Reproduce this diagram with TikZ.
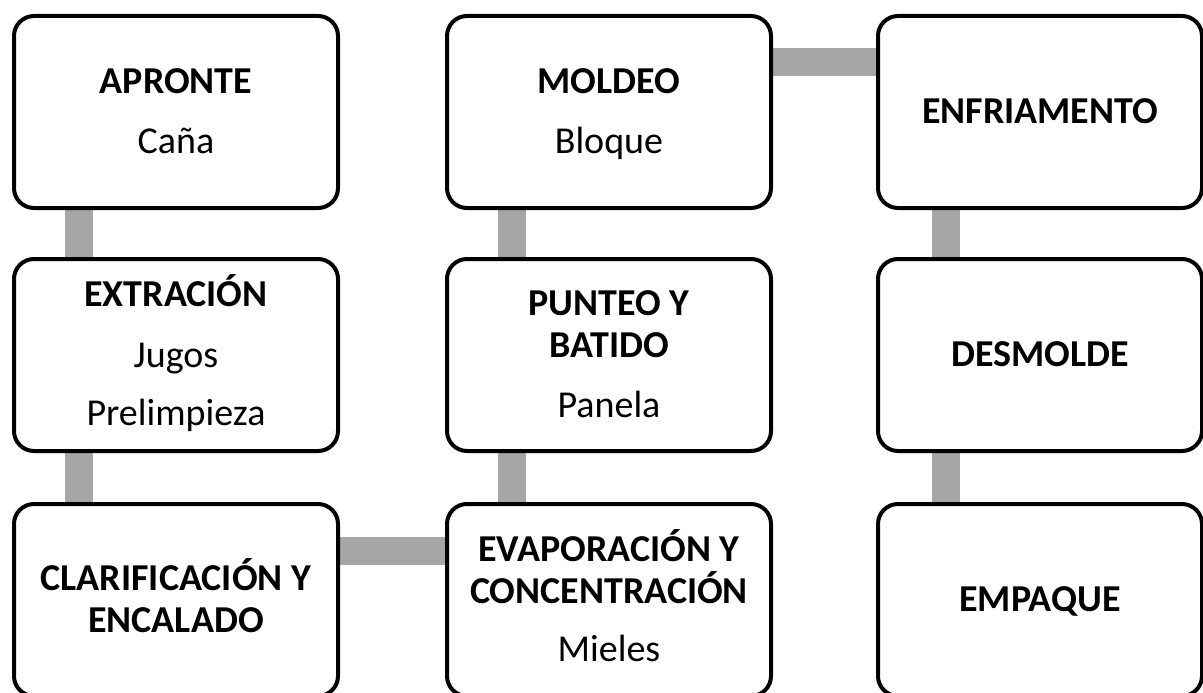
\documentclass[tikz,border=0pt]{standalone}
\usepackage{fontspec}
\setmainfont{Carlito}
\usetikzlibrary{backgrounds}
\definecolor{conngray}{HTML}{A6A6A6}
\tikzset{
  stepbox/.style={draw=black, line width=4pt, rounded corners=20pt, fill=white,
    minimum width=324pt, minimum height=192pt, inner sep=0pt, align=center,
    font=\fontsize{38pt}{42pt}\selectfont},
  conn/.style={draw=conngray, line width=28pt}
}
\newcommand{\mystrut}{\rule[-9.6pt]{0pt}{42pt}}
\newcommand{\hd}[1]{\mystrut\textbf{#1}}
\newcommand{\sub}[1]{\mystrut #1}
\begin{document}
\begin{tikzpicture}[x=1pt,y=-1pt]
\useasboundingbox (0,0) rectangle (1203,693);
\clip (0,0) rectangle (1203,693);
% column 1
\node[stepbox] (apronte) at (176,112) {\hd{APRONTE}\\[18pt]\sub{Caña}};
\node[stepbox] (extra) at (176,355) {\hd{EXTRACIÓN}\\[19pt]\sub{Jugos}\\[16pt]\sub{Prelimpieza}};
\node[stepbox] (clar) at (176,600) {\hd{CLARIFICACIÓN Y}\\\hd{ENCALADO}};
% column 2
\node[stepbox] (evap) at (609,600) {\hd{EVAPORACIÓN Y}\\\hd{CONCENTRACIÓN}\\[16pt]\sub{Mieles}};
\node[stepbox] (punteo) at (609,355) {\hd{PUNTEO Y}\\\hd{BATIDO}\\[18pt]\sub{Panela}};
\node[stepbox] (moldeo) at (609,112) {\hd{MOLDEO}\\[18pt]\sub{Bloque}};
% column 3
\node[stepbox] (enfr) at (1040,112) {\hd{ENFRIAMENTO}};
\node[stepbox] (desm) at (1040,355) {\hd{DESMOLDE}};
\node[stepbox] (empq) at (1040,600) {\hd{EMPAQUE}};
% connectors
\begin{scope}[on background layer]
\draw[conn] ([xshift=-97pt]apronte.south) -- ([xshift=-97pt]extra.north);
\draw[conn] ([xshift=-97pt]extra.south) -- ([xshift=-97pt]clar.north);
\draw[conn] ([yshift=49pt]clar.east) -- ([yshift=49pt]evap.west);
\draw[conn] ([xshift=-97pt]evap.north) -- ([xshift=-97pt]punteo.south);
\draw[conn] ([xshift=-97pt]punteo.north) -- ([xshift=-97pt]moldeo.south);
\draw[conn] ([yshift=50pt]moldeo.east) -- ([yshift=50pt]enfr.west);
\draw[conn] ([xshift=-94pt]enfr.south) -- ([xshift=-94pt]desm.north);
\draw[conn] ([xshift=-94pt]desm.south) -- ([xshift=-94pt]empq.north);
\end{scope}
\end{tikzpicture}
\end{document}
